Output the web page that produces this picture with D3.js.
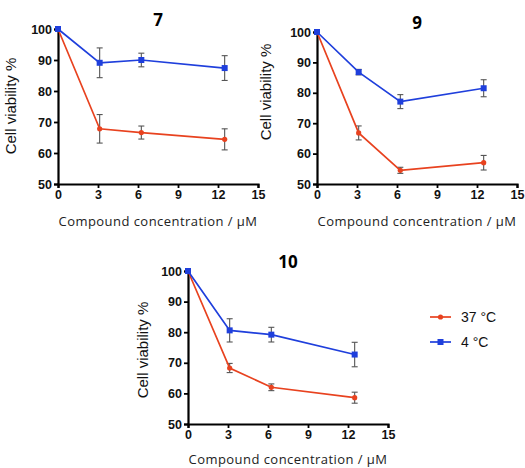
<!DOCTYPE html>
<html>
<head>
<meta charset="utf-8">
<script src="https://cdn.jsdelivr.net/npm/d3@7"></script>
<style>
  body { margin: 0; background: #fff; }
  svg { display: block; }
</style>
</head>
<body>
<div id="chart"></div>
<script>
// shared axes
const conc = [0, 3.125, 6.25, 12.5];
const xTicks = [0, 3, 6, 9, 12, 15];
const yTicks = [50, 60, 70, 80, 90, 100];
const seriesNames = ['37 °C', '4 °C'];

// compound 7
const c7_37 = [100, 67.8, 66.6, 64.4];
const e7_37 = [0, 4.6, 2.1, 3.4];
const c7_4 = [100, 89.1, 90.0, 87.4];
const e7_4 = [0, 4.8, 2.2, 4.0];

// compound 9
const c9_37 = [100, 66.8, 54.5, 57.0];
const e9_37 = [0, 2.3, 1.0, 2.4];
const c9_4 = [100, 86.8, 77.1, 81.5];
const e9_4 = [0, 0.9, 2.3, 2.8];

// compound 10
const c10_37 = [100, 68.3, 62.0, 58.6];
const e10_37 = [0, 1.5, 1.1, 1.8];
const c10_4 = [100, 80.6, 79.2, 72.7];
const e10_4 = [0, 3.8, 2.4, 4.0];

const RED = '#e8421f';
const BLUE = '#1f3fdc';
const SANS = '"Liberation Sans", Arial, sans-serif';

const W = 525, H = 468;
const svg = d3.select('#chart').append('svg')
  .attr('width', W).attr('height', H);

function panel(title, hot, hotErr, cold, coldErr, box){
  const x = d3.scaleLinear().domain([0, 15]).range([0, box.w]);
  const y = d3.scaleLinear().domain([50, 100]).range([box.h, 0]);
  const g = svg.append('g').attr('transform', `translate(${box.l},${box.t})`);

  const axisX = d3.axisBottom(x).tickValues(xTicks).tickSize(4).tickPadding(2);
  const axisY = d3.axisLeft(y).tickValues(yTicks).tickSize(4).tickPadding(2);

  const gx = g.append('g').attr('transform', `translate(0,${box.h})`).call(axisX);
  const gy = g.append('g').call(axisY);
  [gx, gy].forEach(a => {
    a.select('.domain').attr('stroke', '#000').attr('stroke-width', 2.2);
    a.selectAll('.tick line').attr('stroke', '#000').attr('stroke-width', 1.8);
    a.selectAll('.tick text')
      .attr('fill', '#111')
      .style('font-family', SANS)
      .style('font-weight', 'bold')
      .style('font-size', '12.5px');
  });

  g.append('text')
    .attr('x', box.w / 2).attr('y', -3)
    .attr('text-anchor', 'middle')
    .style('font-family', '"Open Sans", sans-serif')
    .style('font-weight', 'bold')
    .style('font-size', '17px')
    .text(title);

  g.append('text')
    .attr('transform', `translate(${box.yl},${box.yc}) rotate(-90)`)
    .attr('text-anchor', 'middle')
    .style('font-family', SANS)
    .style('font-size', '15px')
    .attr('fill', '#111')
    .text('Cell viability %');

  g.append('text')
    .attr('x', box.w / 2).attr('y', box.h + box.xt)
    .attr('text-anchor', 'middle')
    .style('font-family', '"Open Sans", sans-serif')
    .style('font-size', '13px')
    .style('letter-spacing', '0.45px')
    .attr('fill', '#222')
    .text('Compound concentration / μM');

  const line = d3.line().x((d, i) => x(conc[i])).y(d => y(d));

  [[hot, hotErr, RED, 'circle'], [cold, coldErr, BLUE, 'square']].forEach(([vals, errs, col, shape]) => {
    const pts = vals.map((v, i) => ({x: conc[i], v: v, e: errs[i]}));
    // error bars
    const eb = g.append('g').attr('stroke', '#555').attr('stroke-width', 1.1);
    pts.filter(p => p.e > 0).forEach(p => {
      eb.append('line').attr('x1', x(p.x)).attr('x2', x(p.x)).attr('y1', y(p.v + p.e)).attr('y2', y(p.v - p.e));
      eb.append('line').attr('x1', x(p.x) - 3).attr('x2', x(p.x) + 3).attr('y1', y(p.v + p.e)).attr('y2', y(p.v + p.e));
      eb.append('line').attr('x1', x(p.x) - 3).attr('x2', x(p.x) + 3).attr('y1', y(p.v - p.e)).attr('y2', y(p.v - p.e));
    });
    g.append('path').datum(vals)
      .attr('fill', 'none').attr('stroke', col).attr('stroke-width', 1.7)
      .attr('d', line);
    if (shape === 'circle') {
      g.selectAll(null).data(pts).enter().append('circle')
        .attr('cx', p => x(p.x)).attr('cy', p => y(p.v)).attr('r', 2.6).attr('fill', col);
    } else {
      g.selectAll(null).data(pts).enter().append('rect')
        .attr('x', p => x(p.x) - 3).attr('y', p => y(p.v) - 3)
        .attr('width', 6).attr('height', 6).attr('fill', col);
    }
  });
}

panel('7', c7_37, e7_37, c7_4, e7_4, {l: 58, t: 29, w: 200, h: 155, yl: -42, yc: 77, xt: 42});
panel('9', c9_37, e9_37, c9_4, e9_4, {l: 317, t: 32, w: 200, h: 152, yl: -46, yc: 60, xt: 42});
panel('10', c10_37, e10_37, c10_4, e10_4, {l: 188, t: 271, w: 200, h: 153, yl: -40, yc: 79, xt: 40});

// legend
const legend = svg.append('g').attr('transform', 'translate(430,317)');
[[RED, 'circle'], [BLUE, 'square']].forEach(([col, shape], i) => {
  const row = legend.append('g').attr('transform', `translate(0,${i * 25})`);
  row.append('line').attr('x1', 0).attr('x2', 21).attr('stroke', col).attr('stroke-width', 1.7);
  if (shape === 'circle') row.append('circle').attr('cx', 10.5).attr('r', 2.6).attr('fill', col);
  else row.append('rect').attr('x', 7.5).attr('y', -3).attr('width', 6).attr('height', 6).attr('fill', col);
  row.append('text').attr('x', 31).attr('y', 5)
    .style('font-family', SANS)
    .style('font-size', '14px')
    .attr('fill', '#111')
    .text(seriesNames[i]);
});
</script>
</body>
</html>
